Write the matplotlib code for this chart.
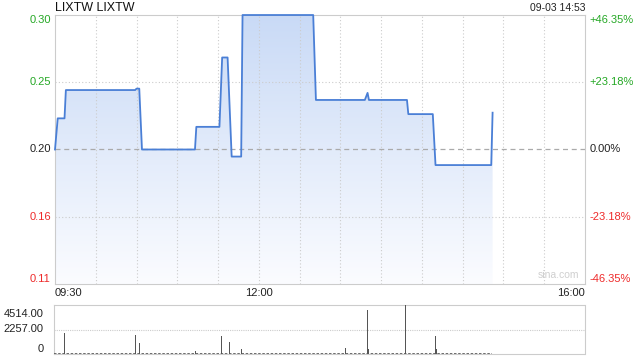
import numpy as np
import matplotlib.pyplot as plt
from matplotlib.colors import LinearSegmentedColormap

plt.rcParams['font.family'] = ['Liberation Sans', 'DejaVu Sans']

# minutes after 09:30 where the price changes
minutes = [0, 2, 7, 8, 59, 60, 62, 64, 103, 104, 121, 123, 127, 130, 137, 138,
           190, 192, 228, 230, 231, 259, 260, 278, 280, 321, 322]
prices = [0.205, 0.227, 0.227, 0.247, 0.247, 0.248, 0.248, 0.205, 0.205, 0.221,
          0.221, 0.270, 0.270, 0.200, 0.200, 0.300, 0.300, 0.240, 0.240, 0.245,
          0.240, 0.240, 0.230, 0.230, 0.194, 0.194, 0.231]

vol_minutes = [3, 8, 60, 63, 104, 123, 129, 130, 138, 214, 230, 231, 258, 260, 280, 281]
volumes = [460, 1960, 1750, 1040, 280, 1690, 1100, 760, 460, 580, 4050, 460, 4514, 60, 1660, 460]

prev_close = 0.205
pct_levels = [0.4635, 0.2318, 0.0, -0.2318, -0.4635]
price_labels = ['0.30', '0.25', '0.20', '0.16', '0.11']
pct_labels = ['+46.35%', '+23.18%', '0.00%', '-23.18%', '-46.35%']
time_ticks = [0, 150, 390]
time_labels = ['09:30', '12:00', '16:00']
vol_ticks = [4514, 2257, 0]
vol_labels = ['4514.00', '2257.00', '0']

GREEN = '#25a825'
RED = '#ee2a2a'
GRID = '#cccccc'
LINE = '#4a7fd6'

fig = plt.figure(figsize=(6.4, 3.6), dpi=100)
ax = fig.add_axes([55 / 640, 1 - 284 / 360, 530 / 640, 269 / 360])
vax = fig.add_axes([54 / 640, 1 - 354 / 360, 531 / 640, 49 / 360])

ylo = prev_close * (1 + pct_levels[-1])
yhi = prev_close * (1 + pct_levels[0])
ax.set_xlim(0, 390)
ax.set_ylim(ylo, yhi)

# gradient fill under the line
cmap = LinearSegmentedColormap.from_list('fill', ['#fbfcff', '#c9daf6'])
grad = np.linspace(0, 1, 256).reshape(-1, 1)
im = ax.imshow(grad, cmap=cmap, origin='lower', aspect='auto',
               extent=[minutes[0], minutes[-1], ylo, yhi], zorder=1)
poly = ax.fill_between(minutes, prices, ylo, facecolor='none', edgecolor='none')
im.set_clip_path(poly.get_paths()[0], transform=ax.transData)
ax.plot(minutes, prices, color=LINE, lw=1.3, zorder=3, clip_on=False)

# grid
for m in range(30, 390, 30):
    ax.axvline(m, color=GRID, lw=0.8, ls=(0, (1, 2)), zorder=2)
levels = [prev_close * (1 + p) for p in pct_levels]
for lv, p in zip(levels, pct_levels):
    if p == 0:
        ax.axhline(lv, color='#aaaaaa', lw=0.9, ls=(0, (4, 3)), zorder=2)
    elif abs(p) < 0.4:
        ax.axhline(lv, color=GRID, lw=0.8, ls=(0, (1, 2)), zorder=2)

for s in ax.spines.values():
    s.set_color(GRID)
ax.set_xticks([])
ax.set_yticks([])

# left and right labels
for lv, p, lab, plab in zip(levels, pct_levels, price_labels, pct_labels):
    col = GREEN if p > 0 else (RED if p < 0 else '#222222')
    va = 'top' if p > 0.4 else ('bottom' if p < -0.4 else 'center')
    ax.text(-0.008, lv, lab, transform=ax.get_yaxis_transform(), ha='right',
            va=va, fontsize=8, color=col)
    ax.text(1.008, lv, plab, transform=ax.get_yaxis_transform(), ha='left',
            va=va, fontsize=8, color=col)

# time labels
has = ['left', 'center', 'right']
for t, lab, ha in zip(time_ticks, time_labels, has):
    ax.text(t, -0.015, lab, transform=ax.get_xaxis_transform(), ha=ha,
            va='top', fontsize=8, color='#222222')

fig.text(55 / 640, 1 - 8 / 360, 'LIXTW LIXTW', ha='left', va='center',
         fontsize=9, color='#111111')
fig.text(585 / 640, 1 - 8 / 360, '09-03 14:53', ha='right', va='center',
         fontsize=7.5, color='#222222')
ax.text(0.99, 0.015, 'sina.com', transform=ax.transAxes, ha='right',
        va='bottom', fontsize=7.5, color='#cfcfcf')

# volume panel
vax.set_xlim(0, 390)
vax.set_ylim(0, max(volumes))
vax.bar(vol_minutes, volumes, width=0.6, color='#555555', zorder=3)
vax.plot([minutes[0], minutes[-1]], [0, 0], color='#555555', lw=1.2,
         ls=(0, (1.5, 1)), zorder=3)
vax.axhline(vol_ticks[1], color=GRID, lw=0.8, ls=(0, (1, 1)))
for s in vax.spines.values():
    s.set_color(GRID)
    s.set_linestyle((0, (1, 1)))
vax.set_xticks([])
vax.set_yticks([])
vas = ['top', 'center', 'bottom']
offs = [-3, 0, 0]
for v, lab, va, off in zip(vol_ticks, vol_labels, vas, offs):
    vax.annotate(lab, (-0.02, v), xycoords=vax.get_yaxis_transform(),
                 xytext=(0, off), textcoords='offset points', ha='right',
                 va=va, fontsize=8, color='#222222')

fig.savefig('out.png', dpi=100)
